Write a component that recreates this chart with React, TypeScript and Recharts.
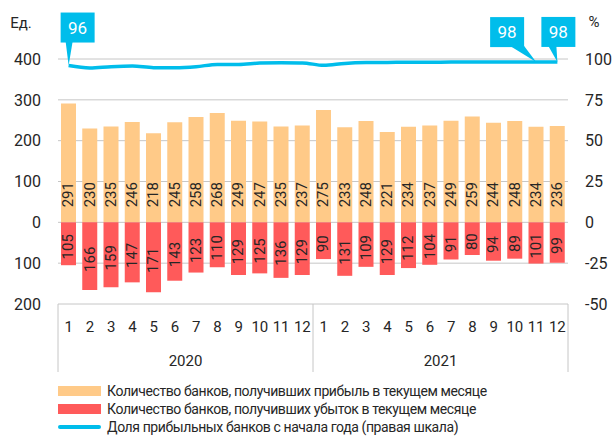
import React from "react";
import {
  ComposedChart,
  Bar,
  Line,
  XAxis,
  YAxis,
  CartesianGrid,
  LabelList,
  Label,
} from "recharts";

// Chart values
const months = ["1", "2", "3", "4", "5", "6", "7", "8", "9", "10", "11", "12"];
const years = ["2020", "2021"];

const profit2020 = [291, 230, 235, 246, 218, 245, 258, 268, 249, 247, 235, 237];
const profit2021 = [275, 233, 248, 221, 234, 237, 249, 259, 244, 248, 234, 236];

const loss2020 = [105, 166, 159, 147, 171, 143, 123, 110, 129, 125, 136, 129];
const loss2021 = [90, 131, 109, 129, 112, 104, 91, 80, 94, 89, 101, 99];

const share2020 = [96.0, 94.5, 95.3, 95.7, 94.7, 94.7, 95.3, 96.7, 96.7, 97.5, 97.7, 97.6];
const share2021 = [96.1, 97.3, 97.8, 97.9, 98.0, 98.0, 98.1, 98.1, 98.2, 98.1, 98.1, 98.2];

const leftTicks = [-200, -100, 0, 100, 200, 300, 400];
const rightTicks = [-50, -25, 0, 25, 50, 75, 100];

const COLORS = {
  profit: "#FFCA88",
  loss: "#FF5A5A",
  share: "#00BDEB",
  grid: "#C6C6C6",
  text: "#262626",
};

const FONT = "Roboto, 'Noto Sans', sans-serif";

const W = 612;
const H = 442;
const MARGIN = { top: 59, right: 0, bottom: 70, left: 0 };
const LEFT_W = 58;
const RIGHT_W = 44;
const MONTH_AXIS_H = 38;
const YEAR_AXIS_H = 30;
const PLOT_W = W - LEFT_W - RIGHT_W;
const PLOT_BOTTOM = H - MARGIN.bottom - MONTH_AXIS_H - YEAR_AXIS_H;
const AXIS_BOTTOM = H - MARGIN.bottom;

const data = years.flatMap((year, yi) => {
  const profit = yi === 0 ? profit2020 : profit2021;
  const loss = yi === 0 ? loss2020 : loss2021;
  const share = yi === 0 ? share2020 : share2021;
  return months.map((m, i) => ({
    key: `${year}-${m}`,
    month: m,
    year,
    profit: profit[i],
    loss: -loss[i],
    lossLabel: loss[i],
    share: share[i],
  }));
});

// callouts shown on the share line: index -> box placement
const callouts: Record<number, { bx: number; by: number; t1: number; t2: number }> = {
  0: { bx: -8, by: -53, t1: -3, t2: 4 },
  22: { bx: -46, by: -45, t1: -26, t2: -12 },
  23: { bx: -16, by: -45, t1: -9, t2: -1 },
};

const ProfitLabel = (props: any) => {
  const { x, y, width, height, value } = props;
  const top = Math.min(y, y + height);
  const base = top + Math.abs(height);
  const cx = x + width / 2;
  const ty = base - 15;
  return (
    <text
      x={cx}
      y={ty}
      transform={`rotate(-90, ${cx}, ${ty})`}
      textAnchor="start"
      dominantBaseline="central"
      fontSize={15}
      fontFamily={FONT}
      fill={COLORS.text}
    >
      {value}
    </text>
  );
};

const LossLabel = (props: any) => {
  const { x, y, width, height, value } = props;
  const top = Math.min(y, y + height);
  const cx = x + width / 2;
  const cy = top + Math.abs(height) / 2 + 3;
  return (
    <text
      x={cx}
      y={cy}
      transform={`rotate(-90, ${cx}, ${cy})`}
      textAnchor="middle"
      dominantBaseline="central"
      fontSize={15}
      fontFamily={FONT}
      fill={COLORS.text}
    >
      {value}
    </text>
  );
};

const ShareCallout = (props: any) => {
  const { x, y, index, value } = props;
  const c = callouts[index];
  if (!c) return null;
  const bw = 34;
  const bh = 30;
  const left = x + c.bx;
  const top = y + c.by;
  const bottom = top + bh;
  return (
    <g>
      <rect x={left} y={top} width={bw} height={bh} fill={COLORS.share} />
      <polygon
        points={`${x + c.t1},${bottom - 1} ${x + c.t2},${bottom - 1} ${x},${y}`}
        fill={COLORS.share}
      />
      <text
        x={left + bw / 2}
        y={top + bh / 2}
        textAnchor="middle"
        dominantBaseline="central"
        fontSize={17}
        fontFamily={FONT}
        fill="#ffffff"
      >
        {Math.round(value)}
      </text>
    </g>
  );
};

const YearTick = (props: any) => {
  const { x, y, payload, index } = props;
  const half = PLOT_W / years.length / 2;
  return (
    <g>
      <line x1={x - half} x2={x - half} y1={PLOT_BOTTOM} y2={AXIS_BOTTOM} stroke={COLORS.grid} />
      {index === years.length - 1 && (
        <line x1={x + half} x2={x + half} y1={PLOT_BOTTOM} y2={AXIS_BOTTOM} stroke={COLORS.grid} />
      )}
      <text
        x={x}
        y={y}
        textAnchor="middle"
        dominantBaseline="central"
        fontSize={15}
        fontFamily={FONT}
        fill={COLORS.text}
      >
        {payload.value}
      </text>
    </g>
  );
};

const legendItems = [
  { label: "Количество банков, получивших прибыль в текущем месяце", color: COLORS.profit, kind: "bar" },
  { label: "Количество банков, получивших убыток в текущем месяце", color: COLORS.loss, kind: "bar" },
  { label: "Доля прибыльных банков с начала года (правая шкала)", color: COLORS.share, kind: "line" },
];

export default function App() {
  return (
    <div style={{ position: "relative", width: W, height: H, fontFamily: FONT, background: "#fff" }}>
      <style>{`body{margin:0}`}</style>
      <ComposedChart
        width={W}
        height={H}
        data={data}
        margin={MARGIN}
        stackOffset="sign"
        barSize={15}
      >
        <CartesianGrid yAxisId="l" xAxisId="m" vertical={false} stroke={COLORS.grid} />
        <XAxis
          xAxisId="m"
          dataKey="key"
          tickFormatter={(_v: any, i: number) => data[i]?.month ?? ""}
          interval={0}
          axisLine={false}
          tickLine={false}
          tickSize={0}
          tickMargin={17}
          height={MONTH_AXIS_H}
          tick={{ fontSize: 15, fill: COLORS.text, fontFamily: FONT }}
        />
        <XAxis
          xAxisId="y"
          dataKey="year"
          allowDuplicatedCategory={false}
          axisLine={false}
          tickLine={false}
          tickSize={0}
          tickMargin={19}
          height={YEAR_AXIS_H}
          interval={0}
          tick={<YearTick />}
        />
        <YAxis
          yAxisId="l"
          domain={[-200, 400]}
          ticks={leftTicks}
          tickFormatter={(v: number) => String(Math.abs(v))}
          axisLine={false}
          tickLine={false}
          tickSize={0}
          tickMargin={17}
          width={LEFT_W}
          tick={{ fontSize: 16, fill: COLORS.text, fontFamily: FONT }}
        >
          <Label
            content={() => (
              <text x={21} y={23} textAnchor="middle" dominantBaseline="central" fontSize={15} fontFamily={FONT} fill={COLORS.text}>
                Ед.
              </text>
            )}
          />
        </YAxis>
        <YAxis
          yAxisId="r"
          orientation="right"
          domain={[-50, 100]}
          ticks={rightTicks}
          axisLine={false}
          tickLine={false}
          tickSize={0}
          tickMargin={17}
          width={RIGHT_W}
          tick={{ fontSize: 16, fill: COLORS.text, fontFamily: FONT }}
        >
          <Label
            content={() => (
              <text x={594} y={22} textAnchor="middle" dominantBaseline="central" fontSize={15} fontFamily={FONT} fill={COLORS.text}>
                %
              </text>
            )}
          />
        </YAxis>
        <Bar
          xAxisId="m"
          yAxisId="l"
          dataKey="profit"
          stackId="banks"
          fill={COLORS.profit}
          isAnimationActive={false}
        >
          <LabelList dataKey="profit" content={<ProfitLabel />} />
        </Bar>
        <Bar
          xAxisId="m"
          yAxisId="l"
          dataKey="loss"
          stackId="banks"
          fill={COLORS.loss}
          isAnimationActive={false}
        >
          <LabelList dataKey="lossLabel" content={<LossLabel />} />
        </Bar>
        <Line
          xAxisId="m"
          yAxisId="r"
          type="monotone"
          dataKey="share"
          stroke={COLORS.share}
          strokeWidth={3.5}
          dot={false}
          isAnimationActive={false}
        >
          <LabelList dataKey="share" content={<ShareCallout />} />
        </Line>
      </ComposedChart>
      <div style={{ position: "absolute", left: 58, top: 382, fontSize: 14, letterSpacing: "-0.4px", color: COLORS.text, lineHeight: "18px" }}>
        {legendItems.map((it) => (
          <div key={it.label} style={{ display: "flex", alignItems: "center", height: 18 }}>
            {it.kind === "bar" ? (
              <span style={{ display: "inline-block", width: 43, height: 10, background: it.color }} />
            ) : (
              <span style={{ display: "inline-block", width: 43, height: 4, borderRadius: 2, background: it.color }} />
            )}
            <span style={{ marginLeft: 6, whiteSpace: "nowrap" }}>{it.label}</span>
          </div>
        ))}
      </div>
    </div>
  );
}
